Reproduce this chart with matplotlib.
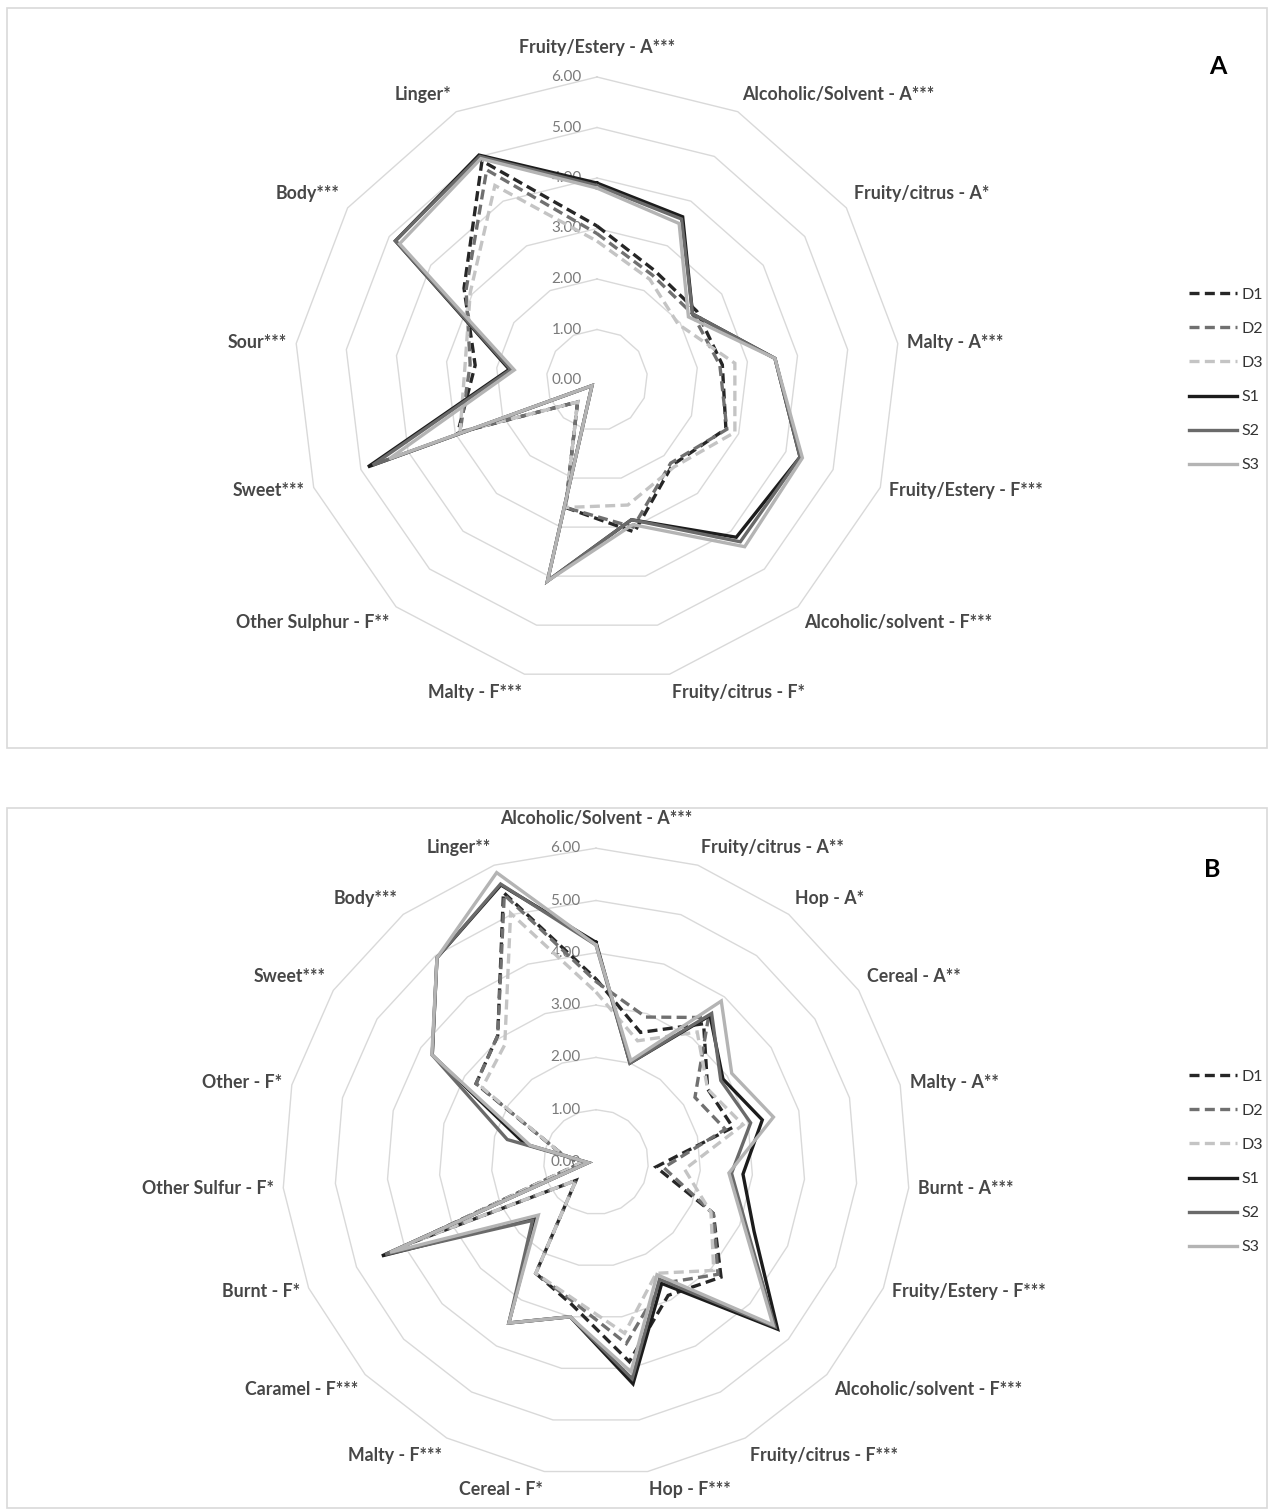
import numpy as np
import matplotlib
matplotlib.use('Agg')
import matplotlib.pyplot as plt
from matplotlib.patches import Rectangle

plt.rcParams['font.family'] = ['Lato', 'DejaVu Sans']

W, H = 1272, 1510

series_names = ['D1', 'D2', 'D3', 'S1', 'S2', 'S3']

# ---- panel A attributes and mean scores ----
labels_a = ['Fruity/Estery - A***', 'Alcoholic/Solvent - A***', 'Fruity/citrus - A*',
            'Malty - A***', 'Fruity/Estery - F***', 'Alcoholic/solvent - F***',
            'Fruity/citrus - F*', 'Malty - F***', 'Other Sulphur - F**', 'Sweet***',
            'Sour***', 'Body***', 'Linger*']
a_d1 = [3.05, 2.45, 2.40, 2.50, 2.73, 2.25, 3.10, 2.60, 0.58, 2.95, 2.43, 3.20, 4.90]
a_d2 = [2.90, 2.35, 2.30, 2.45, 2.75, 2.20, 3.00, 2.60, 0.58, 2.90, 2.53, 3.15, 4.70]
a_d3 = [2.75, 2.25, 1.95, 2.75, 2.92, 2.30, 2.55, 2.60, 0.58, 2.90, 2.63, 3.05, 4.35]
a_s1 = [3.90, 3.65, 2.30, 3.55, 4.30, 4.16, 2.85, 4.10, 0.15, 4.85, 1.75, 4.85, 5.03]
a_s2 = [3.85, 3.60, 2.30, 3.55, 4.30, 4.28, 2.85, 4.10, 0.15, 4.75, 1.72, 4.85, 5.00]
a_s3 = [3.80, 3.50, 2.20, 3.55, 4.35, 4.41, 2.95, 4.10, 0.15, 4.40, 1.65, 4.75, 4.95]

# ---- panel B attributes and mean scores ----
labels_b = ['Alcoholic/Solvent - A***', 'Fruity/citrus - A**', 'Hop - A*', 'Cereal - A**',
            'Malty - A**', 'Burnt - A***', 'Fruity/Estery - F***', 'Alcoholic/solvent - F***',
            'Fruity/citrus - F***', 'Hop - F***', 'Cereal - F*', 'Malty - F***',
            'Caramel - F***', 'Burnt - F*', 'Other Sulfur - F*', 'Other - F*', 'Sweet***',
            'Body***', 'Linger**']
b_d1 = [3.50, 2.62, 3.35, 2.55, 2.70, 1.15, 2.45, 3.25, 2.90, 3.87, 2.77, 2.42, 0.52,
        3.80, 0.30, 0.70, 2.74, 3.06, 5.45]
b_d2 = [3.45, 2.93, 3.50, 2.26, 2.55, 1.30, 2.45, 3.17, 2.64, 3.52, 2.70, 2.42, 0.52,
        3.75, 0.30, 0.70, 2.74, 3.06, 5.40]
b_d3 = [3.25, 2.45, 3.15, 2.55, 2.90, 1.70, 2.40, 3.06, 2.42, 3.32, 2.65, 2.42, 0.52,
        3.70, 0.30, 0.70, 2.60, 2.84, 5.03]
b_s1 = [4.20, 2.00, 3.55, 2.90, 3.28, 2.82, 3.30, 4.72, 2.64, 4.30, 3.00, 3.50, 1.55,
        4.47, 0.15, 1.40, 3.74, 4.95, 5.60]
b_s2 = [4.15, 2.00, 3.60, 2.85, 3.05, 2.60, 3.15, 4.65, 2.55, 4.20, 3.00, 3.50, 1.65,
        4.40, 0.15, 1.75, 3.74, 4.95, 5.62]
b_s3 = [4.15, 2.05, 3.90, 3.10, 3.50, 2.55, 3.10, 4.60, 2.45, 4.07, 3.00, 3.50, 1.50,
        4.30, 0.15, 1.30, 3.75, 4.95, 5.85]

dash = (0, (3.0, 1.6))
styles = {
    'D1': dict(color='#262626', linestyle=dash),
    'D2': dict(color='#707070', linestyle=dash),
    'D3': dict(color='#c4c4c4', linestyle=dash),
    'S1': dict(color='#1c1c1c', linestyle='-'),
    'S2': dict(color='#6a6a6a', linestyle='-'),
    'S3': dict(color='#b4b4b4', linestyle='-'),
}


def radar(ax, labels, data, rmax=6):
    n = len(labels)
    theta = np.arange(n) * 2 * np.pi / n
    sx, cy = np.sin(theta), np.cos(theta)
    sxc, cyc = np.append(sx, sx[0]), np.append(cy, cy[0])

    for r in range(1, rmax + 1):
        ax.plot(sxc * r, cyc * r, color='#d9d9d9', lw=1.0, zorder=1)
    for r in range(rmax + 1):
        ax.annotate(f'{r:.2f}', xy=(0, r), xytext=(-11, 0), textcoords='offset points',
                    ha='right', va='center', fontsize=11, color='#7a7a7a', zorder=2)

    handles = []
    for name, vals in zip(series_names, data):
        v = np.append(vals, vals[0])
        h, = ax.plot(sxc * v, cyc * v, lw=2.4, label=name, zorder=3,
                     solid_joinstyle='miter', dash_joinstyle='miter', **styles[name])
        handles.append(h)

    for lab, s, c in zip(labels, sx, cy):
        ha = 'left' if s > 0.1 else ('right' if s < -0.1 else 'center')
        va = 'bottom' if c > 0.5 else ('top' if c < -0.5 else 'center')
        extra = 8 if abs(s) < 0.1 else 0
        ax.annotate(lab, xy=(s * rmax, c * rmax), xytext=(s * 7, c * 7 + extra),
                    textcoords='offset points', ha=ha, va=va, fontsize=12.8,
                    fontweight='bold', color='#474747', annotation_clip=False)

    ax.set_xlim(-7, 7)
    ax.set_ylim(-7, 7)
    ax.axis('off')
    return handles


def axes_at(fig, cx, cy, unit, half=7):
    return fig.add_axes([(cx - half * unit) / W, (H - cy - half * unit) / H,
                         2 * half * unit / W, 2 * half * unit / H])


fig = plt.figure(figsize=(W / 100, H / 100), dpi=100)

# panel frames
fig.add_artist(Rectangle((7 / W, 1 - 748 / H), 1260 / W, 740 / H, transform=fig.transFigure,
                         fill=False, edgecolor='#d9d9d9', lw=1.2))
fig.add_artist(Rectangle((7 / W, 1 - 1508 / H), 1260 / W, 700 / H, transform=fig.transFigure,
                         fill=False, edgecolor='#d9d9d9', lw=1.2))

ax_a = axes_at(fig, 597, 380, 50.5)
ha_ = radar(ax_a, labels_a, [a_d1, a_d2, a_d3, a_s1, a_s2, a_s3])
ax_b = axes_at(fig, 596, 1162, 52.3)
hb_ = radar(ax_b, labels_b, [b_d1, b_d2, b_d3, b_s1, b_s2, b_s3])

leg_kw = dict(loc='center left', frameon=False, borderpad=0, borderaxespad=0,
              handlelength=3.0, handletextpad=0.3, labelspacing=1.25, fontsize=11.5,
              labelcolor='#333333')
fig.legend(handles=ha_, bbox_to_anchor=(1189 / W, 1 - 380 / H), **leg_kw)
fig.legend(handles=hb_, bbox_to_anchor=(1189 / W, 1 - 1162 / H), **leg_kw)

fig.text(1218 / W, 1 - 67 / H, 'A', ha='center', va='center', fontsize=18, fontweight='bold')
fig.text(1212 / W, 1 - 870 / H, 'B', ha='center', va='center', fontsize=18, fontweight='bold')

fig.savefig('out.png', dpi=100)
